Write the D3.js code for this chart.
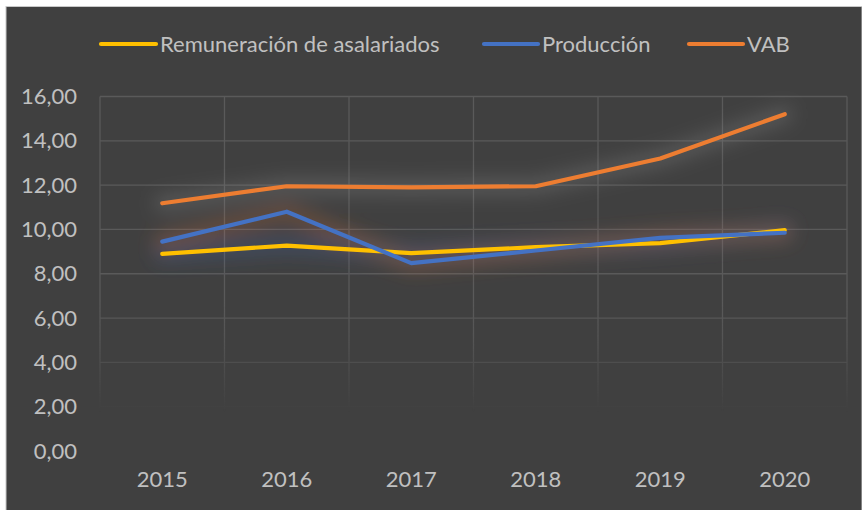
<!DOCTYPE html>
<html>
<head>
<meta charset="utf-8">
<script src="https://cdn.jsdelivr.net/npm/d3@7"></script>
<style>
  html, body { margin: 0; padding: 0; background: #ffffff; }
  svg { display: block; }
  text { font-family: Lato, "Open Sans", sans-serif; fill: #c0c0c0; }
</style>
</head>
<body>
<svg id="chart" width="862" height="510"></svg>
<script>
const years = ["2015", "2016", "2017", "2018", "2019", "2020"];
const remuneracion = [8.90, 9.27, 8.93, 9.20, 9.38, 9.97];
const produccion = [9.45, 10.80, 8.48, 9.05, 9.62, 9.85];
const vab = [11.18, 11.95, 11.90, 11.95, 13.20, 15.20];
const yTicks = [0, 2, 4, 6, 8, 10, 12, 14, 16];
const seriesNames = ["Remuneración de asalariados", "Producción", "VAB"];
const seriesColors = ["#FFC000", "#4472C4", "#ED7D31"];
const glowColors = ["#4472C4", "#ED7D31", "#a5a5a5"];

const svg = d3.select("#chart");
const W = 862, H = 510;
const margin = { left: 100, right: 15, top: 96.5, bottom: 59 };
const FS = "22px";

// background
svg.append("rect").attr("x", 6).attr("y", 6.5).attr("width", W - 6).attr("height", H - 6)
  .attr("fill", "#404040").attr("stroke", "#c8c8c8").attr("stroke-width", 1);

const x = d3.scaleBand().domain(years).range([margin.left, W - margin.right]).padding(0);
const y = d3.scaleLinear().domain([0, 16]).range([H - margin.bottom, margin.top]);

const defs = svg.append("defs");
const grad = defs.append("linearGradient").attr("id", "fade")
  .attr("gradientUnits", "userSpaceOnUse").attr("x1", 0).attr("y1", 0).attr("x2", 0).attr("y2", H);
grad.append("stop").attr("offset", 300 / H).attr("stop-color", "#fff");
grad.append("stop").attr("offset", 340 / H).attr("stop-color", "#ccc");
grad.append("stop").attr("offset", 412 / H).attr("stop-color", "#000");
const mask = defs.append("mask").attr("id", "gridMask").attr("maskUnits", "userSpaceOnUse")
  .attr("x", 0).attr("y", 0).attr("width", W).attr("height", H);
mask.append("rect").attr("x", 0).attr("y", 0).attr("width", W).attr("height", H).attr("fill", "url(#fade)");

const blur = defs.append("filter").attr("id", "glow").attr("x", "-20%").attr("y", "-50%")
  .attr("width", "140%").attr("height", "200%");
blur.append("feGaussianBlur").attr("stdDeviation", 9);

// grid
const grid = svg.append("g").attr("mask", "url(#gridMask)");
grid.selectAll("line.h").data(yTicks.filter(d => d > 0)).join("line")
  .attr("x1", margin.left).attr("x2", W - margin.right)
  .attr("y1", d => y(d)).attr("y2", d => y(d))
  .attr("stroke", "#5a5a5a").attr("stroke-width", 1.3);
const vx = years.map(d => x(d)).concat([x(years[years.length - 1]) + x.bandwidth()]);
grid.selectAll("line.v").data(vx).join("line")
  .attr("x1", d => d).attr("x2", d => d)
  .attr("y1", y(16)).attr("y2", y(1.5))
  .attr("stroke", "#5a5a5a").attr("stroke-width", 1.3);

// y axis labels
const yAxis = d3.axisLeft(y).tickValues(yTicks).tickSize(0).tickPadding(0)
  .tickFormat(d => d3.format(".2f")(d).replace(".", ","));
const ya = svg.append("g").attr("transform", "translate(77,0)").call(yAxis);
ya.select(".domain").remove();
ya.selectAll("text").style("font-size", FS).attr("fill", "#c0c0c0")
  .style("font-family", "Lato, 'Open Sans', sans-serif");

// x axis labels
const xAxis = d3.axisBottom(x).tickSize(0).tickPadding(0);
const xa = svg.append("g").attr("transform", "translate(0,471)").call(xAxis);
xa.select(".domain").remove();
xa.selectAll("text").style("font-size", FS).attr("fill", "#c0c0c0")
  .style("font-family", "Lato, 'Open Sans', sans-serif");

// lines
const allSeries = [remuneracion, produccion, vab];
const line = d3.line().x((d, i) => x(years[i]) + x.bandwidth() / 2).y(d => y(d));

const glowG = svg.append("g").attr("filter", "url(#glow)");
allSeries.forEach((s, i) => {
  glowG.append("path").datum(s).attr("d", line).attr("fill", "none")
    .attr("stroke", glowColors[i]).attr("stroke-width", 18).attr("stroke-opacity", 0.22)
    .attr("stroke-linejoin", "round").attr("stroke-linecap", "round");
});
allSeries.forEach((s, i) => {
  svg.append("path").datum(s).attr("d", line).attr("fill", "none")
    .attr("stroke", seriesColors[i]).attr("stroke-width", 4.2)
    .attr("stroke-linejoin", "round").attr("stroke-linecap", "round");
});

// legend
const legendItems = [
  { x1: 101, x2: 156 },
  { x1: 484, x2: 538 },
  { x1: 689, x2: 743 }
];
const lg = svg.append("g");
seriesNames.forEach((name, i) => {
  const it = legendItems[i];
  lg.append("line").attr("x1", it.x1).attr("x2", it.x2).attr("y1", 44).attr("y2", 44)
    .attr("stroke", seriesColors[i]).attr("stroke-width", 4.2).attr("stroke-linecap", "round");
  lg.append("text").attr("x", it.x2 + 4).attr("y", 44).attr("dy", "0.35em")
    .style("font-size", FS).text(name);
});
</script>
</body>
</html>
